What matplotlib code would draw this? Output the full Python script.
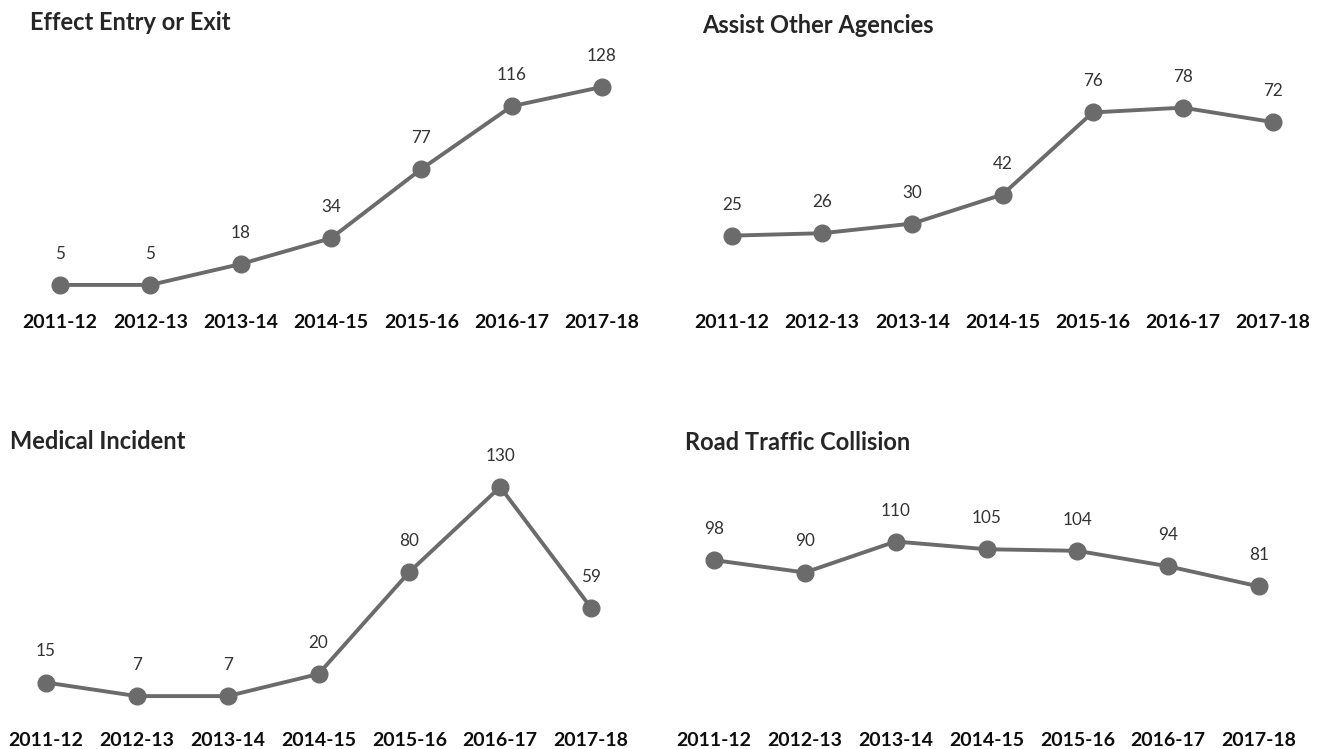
import matplotlib
matplotlib.use("Agg")
import matplotlib.pyplot as plt

# ---- data -------------------------------------------------------------
years = ["2011-12", "2012-13", "2013-14", "2014-15", "2015-16", "2016-17", "2017-18"]

titles = ["Effect Entry or Exit", "Assist Other Agencies",
          "Medical Incident", "Road Traffic Collision"]

effect_entry_exit = [5, 5, 18, 34, 77, 116, 128]
assist_other_agencies = [25, 26, 30, 42, 76, 78, 72]
medical_incident = [15, 7, 7, 20, 80, 130, 59]
road_traffic_collision = [98, 90, 110, 105, 104, 94, 81]

series = [effect_entry_exit, assist_other_agencies,
          medical_incident, road_traffic_collision]

# ---- layout (pixel units on a 1325 x 749 canvas) ----------------------
W, H, DPI = 1325, 749, 100
# first x, last x, zero line y, pixels per unit, tick-label baseline y,
# title x, title baseline y
panels = [
    dict(x0=60,  x1=602,  zero=293, ppu=1.61,  tick=328, tx=30,  ty=30),
    dict(x0=732, x1=1273, zero=296, ppu=2.415, tick=328, tx=702, ty=33),
    dict(x0=46,  x1=591,  zero=708, ppu=1.70,  tick=746, tx=10,  ty=449),
    dict(x0=714, x1=1259, zero=712, ppu=1.55,  tick=746, tx=685, ty=450),
]

LINE = "#6b6b6b"
VALUE_TXT = "#333333"
TITLE_TXT = "#262626"
TICK_TXT = "#0d0d0d"
FONT = "Lato"

plt.rcParams["font.family"] = [FONT, "DejaVu Sans"]

fig = plt.figure(figsize=(W / DPI, H / DPI), dpi=DPI)
fig.patch.set_facecolor("white")

for vals, title, p in zip(series, titles, panels):
    top_px = p["zero"] - 280
    ax = fig.add_axes([p["x0"] / W, 1 - p["zero"] / H,
                       (p["x1"] - p["x0"]) / W, (p["zero"] - top_px) / H])
    ax.set_xlim(0, len(years) - 1)
    ax.set_ylim(0, (p["zero"] - top_px) / p["ppu"])
    ax.patch.set_alpha(0)
    for s in ax.spines.values():
        s.set_visible(False)
    ax.set_yticks([])

    xs = list(range(len(years)))
    ax.plot(xs, vals, color=LINE, linewidth=2.8, marker="o",
            markersize=12, markerfacecolor=LINE, markeredgecolor=LINE,
            clip_on=False, solid_capstyle="round", zorder=3)

    for x, v in zip(xs, vals):
        ax.annotate(str(v), (x, v), xytext=(0, 26), textcoords="offset pixels",
                    ha="center", va="baseline", fontsize=12.3,
                    color=VALUE_TXT, fontfamily=FONT)

    pad_pts = (p["tick"] - p["zero"]) * 72 / DPI
    ax.set_xticks(xs)
    ax.set_xticklabels(years, fontsize=14, fontweight="bold",
                       color=TICK_TXT, va="baseline", fontfamily=FONT)
    ax.tick_params(axis="x", length=0, pad=pad_pts)

    fig.text(p["tx"] / W, 1 - p["ty"] / H, title, ha="left", va="baseline",
             fontsize=17, fontweight="bold", color=TITLE_TXT, fontfamily=FONT)

fig.savefig("out.png", dpi=DPI, facecolor="white")
